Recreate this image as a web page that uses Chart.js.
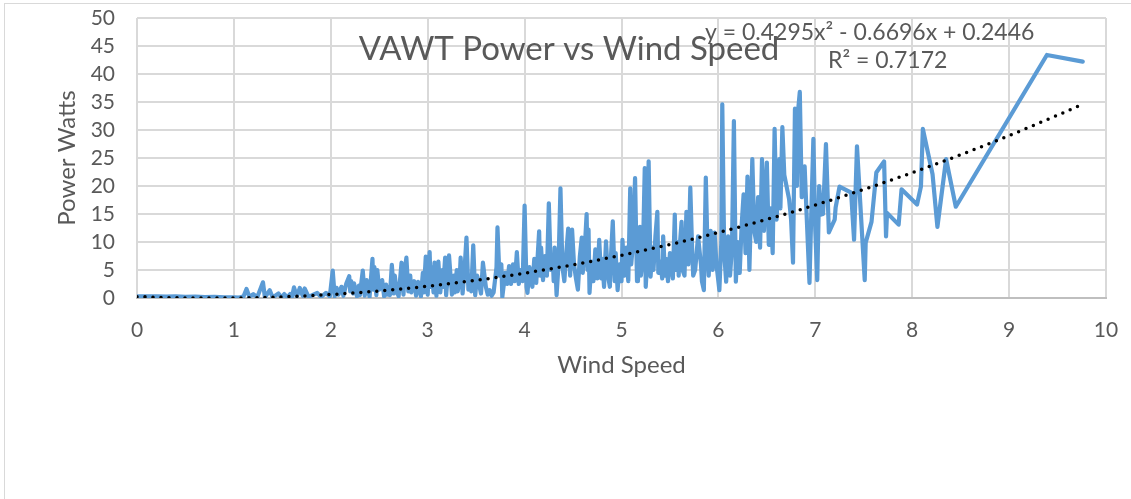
<!DOCTYPE html>
<html>
<head>
<meta charset="utf-8">
<script src="https://cdn.jsdelivr.net/npm/chart.js@4.4.1/dist/chart.umd.min.js"></script>
<style>
  html, body { margin: 0; padding: 0; background: #fff; }
  #wrap { position: relative; width: 1131px; height: 499px; overflow: hidden; }
  #frame { position: absolute; left: 4px; top: 3px; width: 1200px; height: 600px; border: 1.5px solid #d9d9d9; }
  canvas { position: absolute; left: 0; top: 0; }
</style>
</head>
<body>
<div id="wrap">
  <div id="frame"></div>
  <canvas id="grafico" width="1131" height="499"></canvas>
</div>
<script>
// valores (velocidad del viento vs potencia), 10 por fila
const windSpeed = [
  0, 0.1, 0.2, 0.3, 0.4, 0.5, 0.6, 0.7, 0.8, 0.9,
  1.0, 1.05, 1.1, 1.13, 1.16, 1.2, 1.24, 1.3, 1.32, 1.37,
  1.4, 1.46, 1.49, 1.52, 1.55, 1.58, 1.6, 1.62, 1.65, 1.68,
  1.71, 1.73, 1.77, 1.82, 1.86, 1.9, 1.95, 1.99, 2.02, 2.04,
  2.06, 2.08, 2.11, 2.13, 2.16, 2.19, 2.2, 2.21, 2.23, 2.24,
  2.27, 2.29, 2.3, 2.33, 2.35, 2.37, 2.39, 2.4, 2.43, 2.44,
  2.45, 2.47, 2.48, 2.5, 2.53, 2.55, 2.57, 2.58, 2.6, 2.61,
  2.63, 2.65, 2.66, 2.68, 2.7, 2.73, 2.75, 2.76, 2.78, 2.8,
  2.82, 2.83, 2.86, 2.88, 2.9, 2.93, 2.95, 2.96, 2.98, 3.0,
  3.02, 3.03, 3.04, 3.06, 3.07, 3.09, 3.11, 3.13, 3.15, 3.16,
  3.18, 3.19, 3.21, 3.22, 3.25, 3.27, 3.28, 3.3, 3.31, 3.33,
  3.34, 3.36, 3.38, 3.4, 3.42, 3.44, 3.45, 3.47, 3.49, 3.51,
  3.53, 3.55, 3.57, 3.6, 3.62, 3.64, 3.66, 3.68, 3.71, 3.72,
  3.74, 3.76, 3.77, 3.8, 3.82, 3.84, 3.86, 3.88, 3.9, 3.92,
  3.94, 3.96, 3.98, 4.0, 4.02, 4.03, 4.05, 4.07, 4.08, 4.1,
  4.12, 4.13, 4.15, 4.16, 4.17, 4.19, 4.21, 4.23, 4.25, 4.27,
  4.29, 4.3, 4.31, 4.33, 4.35, 4.37, 4.39, 4.41, 4.43, 4.45,
  4.47, 4.49, 4.51, 4.53, 4.55, 4.57, 4.59, 4.6, 4.62, 4.64,
  4.65, 4.66, 4.67, 4.69, 4.71, 4.73, 4.75, 4.77, 4.79, 4.8,
  4.82, 4.84, 4.86, 4.88, 4.89, 4.91, 4.93, 4.94, 4.96, 4.98,
  5.0, 5.01, 5.03, 5.05, 5.07, 5.09, 5.1, 5.12, 5.14, 5.16,
  5.17, 5.19, 5.2, 5.22, 5.24, 5.25, 5.27, 5.28, 5.3, 5.32,
  5.33, 5.35, 5.37, 5.38, 5.4, 5.42, 5.43, 5.45, 5.46, 5.48,
  5.5, 5.52, 5.53, 5.55, 5.56, 5.58, 5.59, 5.6, 5.62, 5.63,
  5.65, 5.67, 5.69, 5.71, 5.73, 5.74, 5.76, 5.78, 5.79, 5.82,
  5.83, 5.85, 5.87, 5.89, 5.9, 5.92, 5.94, 5.96, 5.98, 6.01,
  6.03, 6.04, 6.06, 6.08, 6.1, 6.12, 6.14, 6.16, 6.18, 6.2,
  6.22, 6.24, 6.26, 6.28, 6.3, 6.32, 6.35, 6.37, 6.39, 6.41,
  6.43, 6.45, 6.47, 6.5, 6.52, 6.54, 6.56, 6.58, 6.6, 6.63,
  6.64, 6.66, 6.68, 6.73, 6.75, 6.77, 6.79, 6.81, 6.82, 6.84,
  6.86, 6.89, 6.91, 6.94, 6.96, 6.98, 7.0, 7.02, 7.04, 7.06,
  7.08, 7.11, 7.14, 7.2, 7.21, 7.25, 7.37, 7.4, 7.43, 7.51,
  7.52, 7.58, 7.63, 7.71, 7.73, 7.74, 7.86, 7.89, 8.05, 8.09,
  8.11, 8.21, 8.26, 8.35, 8.45, 9.39, 9.76
];
const powerWatts = [
  0.3, 0.3, 0.3, 0.25, 0.3, 0.2, 0.25, 0.15, 0.2, 0.1,
  0.1, 0.05, 0.3, 1.6, 0.2, 0.7, 0.1, 2.8, 0.1, 1.4,
  0.1, 0.8, 0.1, 0.7, 0.1, 0.7, 0.2, 1.9, 0.3, 1.8,
  0.4, 1.7, 0.2, 0.6, 0.9, 0.2, 0.9, 0.3, 4.9, 0.3,
  1.8, 0.6, 2.0, 0.4, 2.6, 3.9, 1.2, 3.0, 0.8, 2.6,
  0.3, 2.2, 0.5, 4.9, 0.4, 3.2, 1.0, 0.2, 7.0, 1.5,
  5.5, 0.5, 5.0, 1.5, 3.2, 0.3, 2.4, 0.6, 2.0, 0.5,
  5.9, 0.8, 4.0, 1.2, 0.3, 6.3, 0.6, 4.5, 7.2, 1.2,
  4.0, 1.0, 3.0, 0.4, 2.9, 0.3, 4.5, 1.0, 7.4, 0.6,
  8.2, 2.0, 5.5, 1.0, 6.3, 0.4, 6.5, 1.0, 5.0, 2.0,
  7.2, 0.5, 4.5, 7.6, 0.6, 4.0, 1.0, 5.0, 1.2, 3.4,
  7.2, 0.8, 5.0, 10.8, 1.5, 4.0, 1.2, 9.4, 0.5, 4.0,
  2.5, 0.8, 6.3, 2.0, 0.6, 1.4, 0.4, 1.0, 5.5, 12.6,
  4.0, 6.0, 0.2, 4.5, 2.5, 5.7, 2.5, 6.0, 3.0, 8.2,
  2.5, 5.0, 3.0, 16.5, 2.0, 0.9, 5.5, 3.0, 2.0, 7.0,
  2.7, 6.0, 11.9, 4.0, 9.0, 3.2, 7.5, 4.0, 16.9, 5.0,
  7.4, 3.0, 9.0, 0.5, 6.0, 19.6, 5.6, 3.0, 8.0, 12.4,
  4.0, 12.2, 6.0, 3.5, 1.5, 7.4, 10.8, 4.5, 8.5, 15.0,
  5.0, 12.2, 0.9, 6.5, 3.0, 8.7, 3.5, 10.4, 3.5, 7.0,
  2.0, 10.1, 4.0, 2.0, 7.0, 13.7, 3.0, 8.0, 1.4, 6.0,
  3.0, 10.4, 4.0, 9.0, 3.0, 19.6, 6.0, 10.0, 21.4, 3.0,
  8.0, 12.7, 4.0, 7.0, 23.2, 2.0, 8.0, 24.4, 3.8, 9.0,
  5.0, 11.0, 15.4, 4.5, 6.5, 3.5, 11.0, 4.0, 7.0, 3.0,
  8.0, 5.0, 3.5, 14.9, 5.0, 10.0, 4.0, 9.0, 13.6, 5.0,
  4.0, 15.4, 6.0, 19.7, 8.0, 4.0, 5.0, 9.0, 11.0, 6.0,
  3.0, 1.4, 21.5, 7.0, 4.0, 12.0, 5.0, 11.7, 6.0, 1.4,
  10.0, 34.6, 8.0, 2.9, 11.0, 4.0, 9.0, 31.6, 2.9, 10.0,
  4.5, 13.0, 18.5, 8.0, 21.7, 5.0, 24.8, 12.0, 10.0, 18.0,
  9.0, 24.8, 12.0, 24.2, 9.5, 16.0, 8.0, 30.2, 14.0, 24.8,
  16.0, 30.5, 22.0, 17.6, 14.0, 6.3, 33.8, 20.0, 33.0, 36.8,
  18.0, 23.5, 15.0, 2.7, 16.0, 28.4, 12.0, 3.2, 20.0, 14.9,
  15.0, 27.5, 11.7, 14.0, 16.2, 19.9, 18.8, 10.4, 27.1, 3.2,
  9.9, 13.6, 22.4, 24.4, 11.0, 15.2, 13.1, 19.4, 16.7, 19.9,
  30.2, 22.1, 12.7, 24.8, 16.3, 43.4, 42.2
];

// linea de tendencia polinomica, valores de y = 0.4295x² - 0.6696x + 0.2446
const trendX = [0, 0.5, 1, 1.5, 2, 2.5, 3, 3.5, 4, 4.5, 5, 5.5, 6, 6.5, 7, 7.5, 8, 8.5, 9, 9.5, 9.78];
const trendY = [0.2446, 0.0172, 0.0045, 0.2066, 0.6234, 1.255, 2.1013, 3.1624, 4.4382, 5.9288, 7.6341,
  9.5542, 11.689, 14.0386, 16.6029, 19.382, 22.3758, 25.5844, 29.0077, 32.6458, 34.777];

const ecuacion = "y = 0.4295x² - 0.6696x + 0.2446";
const rCuadrado = "R² = 0.7172";
const titulo = "VAWT Power vs Wind Speed";

const gris = "#595959";

// titulo y ecuacion dibujados encima del area del grafico
const textos = {
  id: "textos",
  afterDraw(chart) {
    const ctx = chart.ctx;
    ctx.save();
    ctx.fillStyle = gris;
    ctx.textBaseline = "middle";
    ctx.textAlign = "center";
    ctx.font = "33px Lato";
    ctx.fillText(titulo, 569, 49);
    ctx.textAlign = "left";
    ctx.font = "23px Lato";
    ctx.fillText(ecuacion, 705, 33);
    ctx.fillText(rCuadrado, 828, 61);
    ctx.restore();
  }
};

new Chart(document.getElementById("grafico"), {
  type: "scatter",
  data: {
    datasets: [
      {
        label: "Tendencia",
        data: trendX.map((x, i) => ({ x: x, y: trendY[i] })),
        showLine: true,
        borderColor: "#000000",
        borderWidth: 3.5,
        borderDash: [0, 8],
        borderCapStyle: "round",
        pointRadius: 0,
        cubicInterpolationMode: "monotone"
      },
      {
        label: "Power",
        data: windSpeed.map((x, i) => ({ x: x, y: powerWatts[i] })),
        showLine: true,
        borderColor: "#5B9BD5",
        borderWidth: 4.2,
        borderJoinStyle: "round",
        borderCapStyle: "round",
        pointRadius: 0,
        tension: 0
      }
    ]
  },
  options: {
    responsive: false,
    animation: false,
    layout: { padding: { left: 0, top: 18, right: 25, bottom: 0 } },
    plugins: {
      legend: { display: false },
      tooltip: { enabled: false },
      title: { display: false }
    },
    scales: {
      x: {
        type: "linear",
        min: 0,
        max: 10,
        ticks: { stepSize: 1, padding: 20, autoSkip: false, color: gris, font: { family: "Lato", size: 21 } },
        grid: { color: "#d9d9d9", lineWidth: 2, drawTicks: false },
        border: { color: "#bfbfbf", width: 2 },
        title: { display: true, text: "Wind Speed", color: gris, font: { family: "Lato", size: 24 }, padding: { top: 0, bottom: 119 } },
        afterFit: (scale) => { scale.height = 201; scale.paddingLeft = 0; scale.paddingRight = 0; }
      },
      y: {
        min: 0,
        max: 50,
        ticks: { stepSize: 5, padding: 22, autoSkip: false, color: gris, font: { family: "Lato", size: 21 } },
        grid: { color: "#d9d9d9", lineWidth: 2, drawTicks: false },
        border: { display: false },
        title: { display: true, text: "Power Watts", color: gris, font: { family: "Lato", size: 24 }, padding: { top: 53, bottom: 0 } },
        afterFit: (scale) => { scale.width = 137; scale.paddingTop = 0; scale.paddingBottom = 0; }
      }
    }
  },
  plugins: [textos]
});
</script>
</body>
</html>
